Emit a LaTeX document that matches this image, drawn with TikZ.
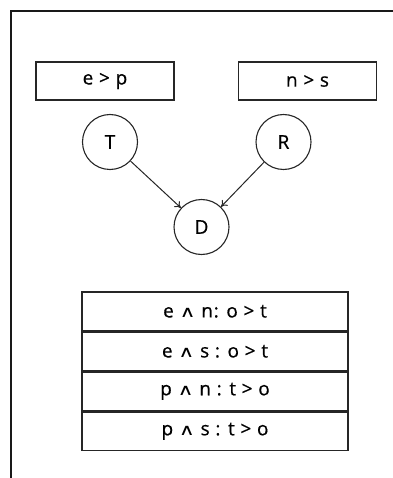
\documentclass[tikz,border=0pt]{standalone}
\usepackage{fontspec}
\usepackage{graphicx}
\setmainfont{Open Sans}[LetterSpace=4,FakeBold=0.6]
\newfontfamily\symfont{DejaVu Sans}
\usetikzlibrary{arrows.meta}
\newcommand{\andop}{{\symfont\fontsize{22}{22}\selectfont\scalebox{1}[0.72]{∧}}}
\begin{document}
\begin{tikzpicture}[x=1pt,y=-1pt,
  lbl/.style={font=\fontsize{19}{22}\selectfont},
  rulebox/.style={draw=black!85,line width=1.3pt,minimum width=138pt,minimum height=38pt,inner sep=0pt,lbl},
  var/.style={circle,draw=black!85,line width=1.1pt,minimum size=55pt,inner sep=0pt,lbl},
  row/.style={draw=black!85,line width=1.3pt,minimum width=266pt,minimum height=38.7pt,inner sep=0pt,lbl},
  link/.style={-{To[length=6pt,width=8pt]},draw=black!85,line width=1pt}]
\useasboundingbox (0,0) rectangle (392,478);
% outer frame (only left and top edges fall inside the page)
\draw[line width=2pt,black!90] (10.5,500) -- (10.5,11) -- (420,11);

% preference rules for the parents
\node[rulebox] (ep) at (105,81) {e > p};
\node[rulebox] (ns) at (307.5,81) {n > s};

% network
\node[var] (T) at (110,142) {T};
\node[var] (R) at (283.5,142) {R};
\node[var] (D) at (201.5,227) {D};
\draw[link] (T) -- (D);
\draw[link] (R) -- (D);

% conditional preference table for D
\node[row] (r1) at (215,311.3) {e \andop\ n: o > t};
\node[row,anchor=north] (r2) at (r1.south) {e \andop\ s : o > t};
\node[row,anchor=north] (r3) at (r2.south) {p \andop\ n : t > o};
\node[row,anchor=north] (r4) at (r3.south) {p \andop\ s : t > o};
\end{tikzpicture}
\end{document}
